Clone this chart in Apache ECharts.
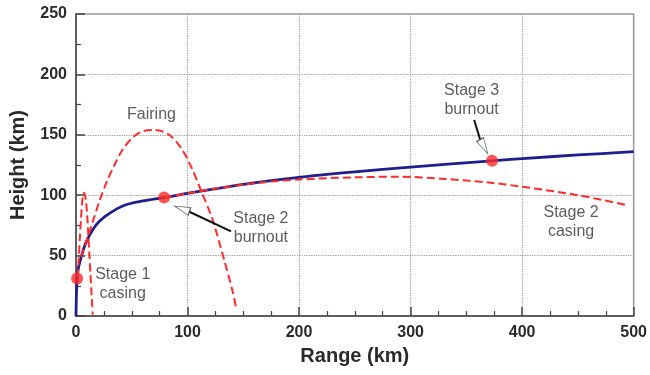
<!DOCTYPE html>
<html><head><meta charset="utf-8">
<script src="https://cdn.jsdelivr.net/npm/echarts@6/dist/echarts.min.js"></script>
<style>html,body{margin:0;padding:0;background:#fff}#c{width:650px;height:375px}</style>
</head><body><div id="c"></div>
<script>
// Range (km), Height (km)
const mainTrajectory = [[0,0],[0.3,15],[0.7,26],[1,31],[2,39],[3.5,45],[5,50],[9,61],[15,71.5],[21,78.5],[30,85],[43,91.5],[60,95.2],[79,98],[100,101.5],[150,109],[200,114.8],[250,119.3],[300,123.3],[373,128.5],[400,130.3],[450,133.3],[500,136]];
const stage1Casing = [[1.5,32],[2.5,48],[3.5,65],[4.5,81],[5.5,94],[6.5,101],[7.3,102],[8,100.5],[9,95],[10,84],[11,68],[12,51],[13,34],[14,17],[15,1]];
const fairing = [[4.5,49],[9,61],[15,78],[21,95],[28,112],[35,126],[42,138],[51,148],[60,153],[69,154],[77,153],[85,149],[95,138],[104,122],[112,104],[122,81],[133,46],[140,22],[144,5]];
const stage2Casing = [[79,98],[100,101.5],[125,105.5],[150,108.8],[175,111.3],[200,113],[250,114.8],[290,115.3],[330,113.5],[370,110.5],[400,107],[450,100],[493,92]];
const eventPoints = [[1,31],[79,98],[373,128.5]];
const annotationTexts = ['Fairing','Stage 1\ncasing','Stage 2\nburnout','Stage 3\nburnout','Stage 2\ncasing'];
const annotationAt = [[67.7,166.4],[41.9,26.5],[165.8,72.8],[354.7,179.1],[443.9,77.8]];
const arrow2Line = [[101.6,86.3],[139,70]];
const arrow3Line = [[357,162.3],[362.5,145.7]];
const arrowHeads = [[94.9,88.8,70.5],[365.7,140.2,-151]];

const chart = echarts.init(document.getElementById('c'));
const FONT = 'Liberation Sans, Arial, sans-serif';
const axisCommon = {
  type:'value',
  axisLine:{show:true,lineStyle:{color:'#444',width:1.5}},
  axisTick:{show:true,inside:true,length:9,lineStyle:{color:'#444',width:1.5}},
  splitLine:{show:true,showMinLine:false,showMaxLine:false,lineStyle:{type:'dotted',color:'#999',width:1.2}},
  axisLabel:{fontSize:16,fontWeight:'bold',color:'#2a2a2a',fontFamily:FONT,margin:9},
  nameLocation:'middle',
  nameTextStyle:{fontSize:20,fontWeight:'bold',color:'#2a2a2a',fontFamily:FONT}
};
const red = '#ff2a2a', blue = '#1e1e8c';
const dashed = {color:red,width:2,type:[8,4]};
chart.setOption({
  animation:false,
  backgroundColor:'#fff',
  grid:{left:76,right:13,top:14,bottom:59,show:true,borderColor:'#999',borderWidth:1.5},
  xAxis:Object.assign({},axisCommon,{min:0,max:500,interval:100,name:'Range (km)',nameGap:30,
    minorTick:{show:true,splitNumber:4,length:5,lineStyle:{color:'#444',width:1.2}}}),
  yAxis:Object.assign({},axisCommon,{min:0,max:250,interval:50,name:'Height (km)',nameGap:48,
    minorTick:{show:true,splitNumber:2,length:5,lineStyle:{color:'#444',width:1.2}}}),
  series:[
    {type:'line',data:mainTrajectory,smooth:0.3,showSymbol:false,lineStyle:{color:blue,width:2.8},z:2},
    {type:'line',data:stage1Casing,smooth:0.3,showSymbol:false,lineStyle:dashed,z:3},
    {type:'line',data:fairing,smooth:0.3,showSymbol:false,lineStyle:dashed,z:3},
    {type:'line',data:stage2Casing,smooth:0.3,showSymbol:false,lineStyle:dashed,z:3},
    {type:'line',data:arrow2Line,showSymbol:false,lineStyle:{color:'#111',width:2},z:4},
    {type:'line',data:arrow3Line,showSymbol:false,lineStyle:{color:'#111',width:2},z:4},
    {type:'scatter',data:arrowHeads.map(a=>({value:[a[0],a[1]],symbolRotate:a[2]})),symbol:'triangle',symbolSize:[8,16],
      itemStyle:{color:'#fff',borderColor:'#444',borderWidth:1},z:5},
    {type:'scatter',data:eventPoints,symbolSize:12,itemStyle:{color:red},z:6},
    {type:'scatter',data:annotationAt.map((p,i)=>({value:p,label:{formatter:annotationTexts[i]}})),symbolSize:1,itemStyle:{color:'rgba(0,0,0,0)'},
      label:{show:true,position:'inside',align:'center',verticalAlign:'middle',fontSize:16,lineHeight:19,color:'#333',fontFamily:FONT},z:7}
  ]
});
</script></body></html>
